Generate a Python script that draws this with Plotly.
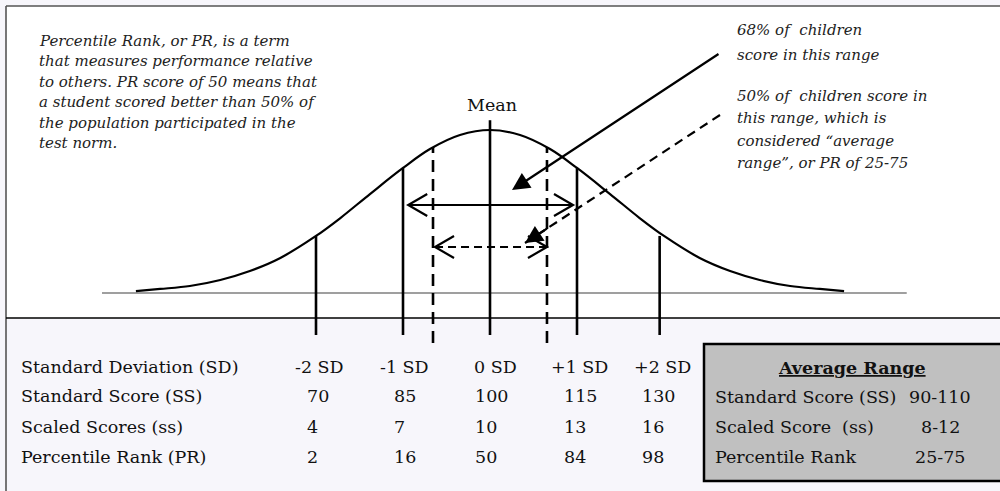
import plotly.graph_objects as go

# ---------------- data ----------------
# bell curve: position in SD units, height relative to the peak
curve_z = [-4.07, -3.79, -3.45, -3.10, -2.76, -2.41, -2.0, -1.72, -1.38, -1.0, -0.69, -0.345, 0.0,
           0.345, 0.69, 1.0, 1.38, 1.72, 2.0, 2.41, 2.76, 3.10, 3.45, 3.79, 4.07]
curve_h = [0.012, 0.025, 0.043, 0.08, 0.135, 0.215, 0.35, 0.46, 0.607, 0.767, 0.883, 0.969, 1.0,
           0.969, 0.883, 0.767, 0.607, 0.46, 0.35, 0.215, 0.135, 0.08, 0.043, 0.025, 0.012]

sd_labels = ["-2 SD", "-1 SD", "0 SD", "+1 SD", "+2 SD"]
sd_line_z = [-2.0, -1.0, 0.0, 1.0, 1.95]
sd_line_top = [0.35, 0.767, 1.06, 0.767, 0.35]
standard_scores = ["70", "85", "100", "115", "130"]
scaled_scores = ["4", "7", "10", "13", "16"]
percentile_ranks = ["2", "16", "50", "84", "98"]

avg_z = [-0.655, 0.655]          # PR 25 / 75 boundaries (dashed lines)
avg_top = [0.896, 0.896]

range68 = [-0.94, 0.954]          # 68% double arrow
range50 = [-0.632, 0.655]         # 50% double arrow

avg_labels = ["Standard Score (SS)", "Scaled Score  (ss)", "Percentile Rank"]
avg_values = ["90-110", "8-12", "25-75"]
row_labels = ["Standard Deviation (SD)", "Standard Score (SS)", "Scaled Scores (ss)", "Percentile Rank (PR)"]

# ---------------- geometry helpers ----------------
W, H = 1000, 491
PX_PER_SD = 87.0
PX_PER_H = 163.0
X0_PX = 490.0
BASE_PX = 293.0
XR = [(0 - X0_PX) / PX_PER_SD, (W - X0_PX) / PX_PER_SD]
YR = [(BASE_PX - H) / PX_PER_H, BASE_PX / PX_PER_H]


def px(x):
    return x / W


def py(y):
    return 1 - y / H


FONT = "DejaVu Serif"
TS = 17.5   # table font size
fig = go.Figure()

# baseline
fig.add_trace(go.Scatter(x=[-4.46, 4.79], y=[0, 0], mode="lines",
                         line=dict(color="#7f7f7f", width=1.5), hoverinfo="skip"))
# curve
fig.add_trace(go.Scatter(x=curve_z, y=curve_h, mode="lines", line_shape="spline",
                         line=dict(color="black", width=2.2), hoverinfo="skip"))

# solid SD lines
LINE_BOTTOM = (BASE_PX - 335) / PX_PER_H
xs, ys = [], []
for z, t in zip(sd_line_z, sd_line_top):
    xs += [z, z, None]
    ys += [LINE_BOTTOM, t, None]
fig.add_trace(go.Scatter(x=xs, y=ys, mode="lines", line=dict(color="black", width=2.6),
                         hoverinfo="skip"))

# dashed average-range lines
DASH_BOTTOM = (BASE_PX - 343) / PX_PER_H
xs, ys = [], []
for z, t in zip(avg_z, avg_top):
    xs += [z, z, None]
    ys += [DASH_BOTTOM, t, None]
fig.add_trace(go.Scatter(x=xs, y=ys, mode="lines",
                         line=dict(color="black", width=2.6, dash="12px,7px"), hoverinfo="skip"))


def double_arrow(x0, x1, y, dash):
    L = 19 / PX_PER_SD
    Hh = 11 / PX_PER_H
    fig.add_trace(go.Scatter(x=[x0, x1], y=[y, y], mode="lines",
                             line=dict(color="black", width=2.2, dash=dash), hoverinfo="skip"))
    fig.add_trace(go.Scatter(x=[x0 + L, x0, x0 + L, None, x1 - L, x1, x1 - L],
                             y=[y + Hh, y, y - Hh, None, y + Hh, y, y - Hh],
                             mode="lines", line=dict(color="black", width=2.2), hoverinfo="skip"))


double_arrow(range68[0], range68[1], (BASE_PX - 205) / PX_PER_H, "solid")
double_arrow(range50[0], range50[1], (BASE_PX - 247) / PX_PER_H, "8px,5px")

# diagonal pointer arrows
s1 = ((720 - X0_PX) / PX_PER_SD, (BASE_PX - 53) / PX_PER_H)
t1 = ((512 - X0_PX) / PX_PER_SD, (BASE_PX - 190) / PX_PER_H)
s2 = ((720 - X0_PX) / PX_PER_SD, (BASE_PX - 115) / PX_PER_H)
t2 = ((525 - X0_PX) / PX_PER_SD, (BASE_PX - 243) / PX_PER_H)

fig.add_annotation(x=t1[0], y=t1[1], ax=s1[0], ay=s1[1], xref="x", yref="y", axref="x", ayref="y",
                   text="", showarrow=True, arrowhead=2, arrowsize=1.6, arrowwidth=2.2, arrowcolor="black")
fig.add_trace(go.Scatter(x=[s2[0], t2[0]], y=[s2[1], t2[1]], mode="lines",
                         line=dict(color="black", width=2.2, dash="9px,6px"), hoverinfo="skip"))
f = 0.12
fig.add_annotation(x=t2[0], y=t2[1], ax=t2[0] + (s2[0] - t2[0]) * f, ay=t2[1] + (s2[1] - t2[1]) * f,
                   xref="x", yref="y", axref="x", ayref="y",
                   text="", showarrow=True, arrowhead=2, arrowsize=1.6, arrowwidth=2.2, arrowcolor="black")

# ---------------- background panels ----------------
shapes = [
    dict(type="rect", xref="paper", yref="paper", x0=px(6), x1=1.01, y0=py(318), y1=py(6),
         fillcolor="white", line=dict(width=0), layer="below"),
    dict(type="line", xref="paper", yref="paper", x0=px(6), x1=1.01, y0=py(6), y1=py(6),
         line=dict(color="#555555", width=1.6), layer="below"),
    dict(type="line", xref="paper", yref="paper", x0=px(6), x1=px(6), y0=py(6), y1=-0.01,
         line=dict(color="#555555", width=1.6), layer="below"),
    dict(type="line", xref="paper", yref="paper", x0=px(6), x1=1.01, y0=py(318), y1=py(318),
         line=dict(color="black", width=1.3), layer="below"),
    dict(type="rect", xref="paper", yref="paper", x0=px(704), x1=1.01, y0=py(481), y1=py(344),
         fillcolor="#c0c0c0", line=dict(color="black", width=2.5), layer="below"),
]

# ---------------- texts ----------------
para = ["Percentile Rank, or PR, is a term",
        "that measures performance relative",
        "to others. PR score of 50 means that",
        "a student scored better than 50% of",
        "the population participated in the",
        "test norm."]
for i, t in enumerate(para):
    fig.add_annotation(x=px(37), y=py(41 + i * 20.4), xref="paper", yref="paper", text=t,
                       showarrow=False, xanchor="left", yanchor="middle",
                       font=dict(family=FONT, size=15, color="#222", style="italic"))

right_text = [("68% of  children", 30), ("score in this range", 55),
              ("50% of  children score in", 96), ("this range, which is", 118),
              ("considered \u201caverage", 141), ("range\u201d, or PR of 25-75", 163)]
for t, y in right_text:
    fig.add_annotation(x=px(735), y=py(y), xref="paper", yref="paper", text=t,
                       showarrow=False, xanchor="left", yanchor="middle",
                       font=dict(family=FONT, size=15, color="#222", style="italic"))

fig.add_annotation(x=px(492), y=py(105), xref="paper", yref="paper", text="Mean", showarrow=False,
                   xanchor="center", yanchor="middle", font=dict(family=FONT, size=17.5, color="#111"))

row_y = [367, 396, 427, 457]
for lab, y in zip(row_labels, row_y):
    fig.add_annotation(x=px(19), y=py(y), xref="paper", yref="paper", text=lab, showarrow=False,
                       xanchor="left", yanchor="middle", font=dict(family=FONT, size=TS, color="#111"))

sd_left = [293, 378, 472, 549, 632]
val_left = [305, 392, 473, 562, 640]
for lab, xl in zip(sd_labels, sd_left):
    fig.add_annotation(x=px(xl), y=py(row_y[0]), xref="paper", yref="paper", text=lab, showarrow=False,
                       xanchor="left", yanchor="middle", font=dict(family=FONT, size=TS, color="#111"))
for vals, y in zip([standard_scores, scaled_scores, percentile_ranks], row_y[1:]):
    for v, xl in zip(vals, val_left):
        fig.add_annotation(x=px(xl), y=py(y), xref="paper", yref="paper", text=v, showarrow=False,
                           xanchor="left", yanchor="middle",
                           font=dict(family=FONT, size=TS, color="#111"))

fig.add_annotation(x=px(852), y=py(368), xref="paper", yref="paper", text="<b><u>Average Range</u></b>",
                   showarrow=False, xanchor="center", yanchor="middle",
                   font=dict(family=FONT, size=TS, color="#111"))
for lab, val, y in zip(avg_labels, avg_values, [397, 427, 457]):
    fig.add_annotation(x=px(713), y=py(y), xref="paper", yref="paper", text=lab, showarrow=False,
                       xanchor="left", yanchor="middle", font=dict(family=FONT, size=TS, color="#111"))
    fig.add_annotation(x=px(940), y=py(y), xref="paper", yref="paper", text=val, showarrow=False,
                       xanchor="center", yanchor="middle", font=dict(family=FONT, size=TS, color="#111"))

fig.update_layout(
    width=W, height=H, margin=dict(l=0, r=0, t=0, b=0),
    paper_bgcolor="#f7f6fb", plot_bgcolor="rgba(0,0,0,0)",
    showlegend=False, shapes=shapes,
    xaxis=dict(range=XR, visible=False, fixedrange=True),
    yaxis=dict(range=YR, visible=False, fixedrange=True),
)

fig.write_html("out.html", config={"displayModeBar": False},
               post_script="document.body.style.margin='0';document.body.style.overflow='hidden';")
